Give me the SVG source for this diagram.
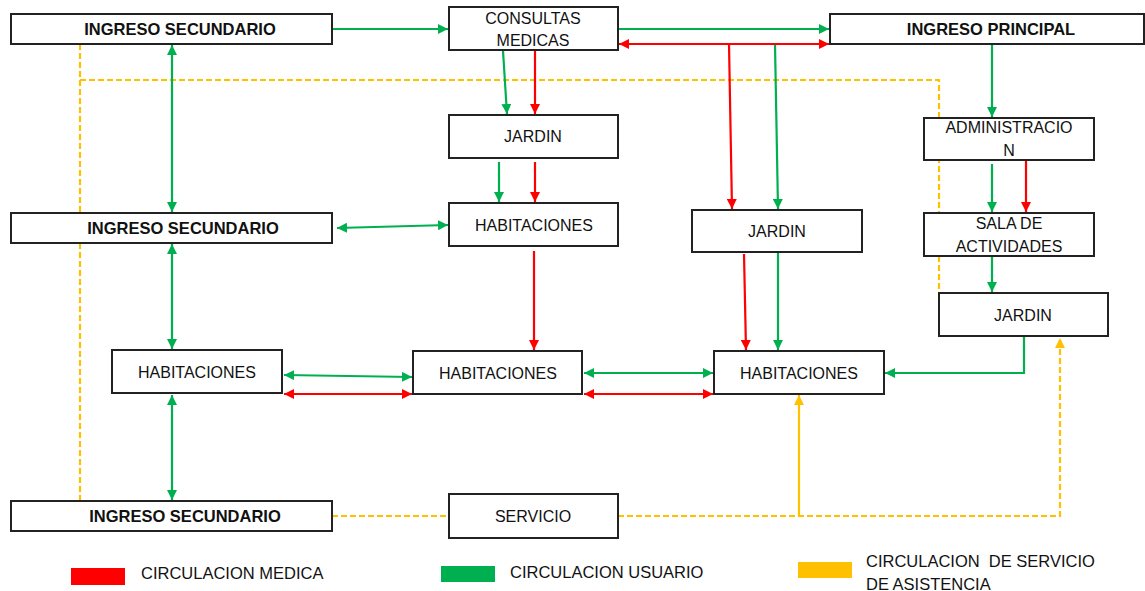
<svg xmlns="http://www.w3.org/2000/svg" width="1145" height="591" viewBox="0 0 1145 591">
<defs>
<style>
.box{fill:#fff;stroke:#222;stroke-width:2}
.t{font-family:"Liberation Sans",Arial,sans-serif;font-size:16px;fill:#111;text-anchor:middle}
.b{font-weight:bold;font-size:16.5px}
.lg{font-family:"Liberation Sans",Arial,sans-serif;font-size:16.5px;fill:#111;white-space:pre}
.g{stroke:#00B050;stroke-width:2.2;fill:none}
.r{stroke:#FF0000;stroke-width:2.2;fill:none}
.y{stroke:#FFC000;stroke-width:2.2;fill:none}
.yd{stroke:#FFC000;stroke-width:2.2;fill:none;stroke-dasharray:6 3}
</style>
<marker id="ag" viewBox="0 0 10 10" refX="10" refY="5" markerWidth="10" markerHeight="10" markerUnits="userSpaceOnUse" orient="auto-start-reverse"><path d="M0,0L10,5L0,10z" fill="#00B050"/></marker>
<marker id="ar" viewBox="0 0 10 10" refX="10" refY="5" markerWidth="10" markerHeight="10" markerUnits="userSpaceOnUse" orient="auto-start-reverse"><path d="M0,0L10,5L0,10z" fill="#FF0000"/></marker>
<marker id="ay" viewBox="0 0 10 10" refX="10" refY="5" markerWidth="10" markerHeight="10" markerUnits="userSpaceOnUse" orient="auto-start-reverse"><path d="M0,0L10,5L0,10z" fill="#FFC000"/></marker>
</defs>
<rect width="1145" height="591" fill="#fff"/>
<g id="connectors">
<!-- yellow service circulation -->
<path class="yd" d="M80,44V213"/>
<path class="yd" d="M80,80H939V293"/>
<path class="yd" d="M80,243V501"/>
<path class="yd" d="M332,516H449"/>
<path class="yd" d="M618,516H1060V338" marker-end="url(#ay)"/>
<path class="y" d="M799,516V395" marker-end="url(#ay)"/>
<!-- green user circulation -->
<path class="g" d="M333,29H448" marker-end="url(#ag)"/>
<path class="g" d="M619,29H829" marker-end="url(#ag)"/>
<path class="g" d="M503,51L507,114" marker-end="url(#ag)"/>
<path class="g" d="M775,44L778,209" marker-end="url(#ag)"/>
<path class="g" d="M992,44V117" marker-end="url(#ag)"/>
<path class="g" d="M499,162V202" marker-end="url(#ag)"/>
<path class="g" d="M337,228L448,225" marker-start="url(#ag)" marker-end="url(#ag)"/>
<path class="g" d="M778,253V350" marker-end="url(#ag)"/>
<path class="g" d="M172,45V212" marker-start="url(#ag)" marker-end="url(#ag)"/>
<path class="g" d="M172,244V349" marker-start="url(#ag)" marker-end="url(#ag)"/>
<path class="g" d="M172,395V500" marker-start="url(#ag)" marker-end="url(#ag)"/>
<path class="g" d="M284,375L412,377" marker-start="url(#ag)" marker-end="url(#ag)"/>
<path class="g" d="M584,373H713" marker-start="url(#ag)" marker-end="url(#ag)"/>
<path class="g" d="M1024,337V373H885" marker-end="url(#ag)"/>
<path class="g" d="M992,164V212" marker-end="url(#ag)"/>
<path class="g" d="M992,257V292" marker-end="url(#ag)"/>
<!-- red medical circulation -->
<path class="r" d="M619,44H829" marker-start="url(#ar)" marker-end="url(#ar)"/>
<path class="r" d="M729,44L732,209" marker-end="url(#ar)"/>
<path class="r" d="M535,51V114" marker-end="url(#ar)"/>
<path class="r" d="M535,162V202" marker-end="url(#ar)"/>
<path class="r" d="M534,251V350" marker-end="url(#ar)"/>
<path class="r" d="M744,254L746,350" marker-end="url(#ar)"/>
<path class="r" d="M284,394H412" marker-start="url(#ar)" marker-end="url(#ar)"/>
<path class="r" d="M584,394H713" marker-start="url(#ar)" marker-end="url(#ar)"/>
<path class="r" d="M1026,160V212" marker-end="url(#ar)"/>
</g>
<g id="ingreso-secundario-1"><rect class="box" x="11" y="14" width="321" height="30"/><text class="t b" x="180" y="35">INGRESO SECUNDARIO</text></g>
<g id="consultas-medicas"><rect class="box" x="449" y="7" width="169" height="43"/><text class="t" x="533" y="24">CONSULTAS</text><text class="t" x="533" y="46">MEDICAS</text></g>
<g id="ingreso-principal"><rect class="box" x="830" y="14" width="314" height="30"/><text class="t b" x="991" y="35">INGRESO PRINCIPAL</text></g>
<g id="jardin-1"><rect class="box" x="449" y="115" width="169" height="43"/><text class="t" x="533" y="142">JARDIN</text></g>
<g id="administracion"><rect class="box" x="924" y="118" width="170" height="42"/><text class="t" x="1009" y="133">ADMINISTRACIO</text><text class="t" x="1009" y="156">N</text></g>
<g id="ingreso-secundario-2"><rect class="box" x="11" y="213" width="321" height="30"/><text class="t b" x="183" y="234">INGRESO SECUNDARIO</text></g>
<g id="habitaciones-1"><rect class="box" x="449" y="203" width="169" height="43"/><text class="t" x="534" y="231">HABITACIONES</text></g>
<g id="jardin-2"><rect class="box" x="692" y="210" width="170" height="42"/><text class="t" x="777" y="237">JARDIN</text></g>
<g id="sala-actividades"><rect class="box" x="924" y="213" width="170" height="43"/><text class="t" x="1009" y="229">SALA DE</text><text class="t" x="1009" y="252">ACTIVIDADES</text></g>
<g id="jardin-3"><rect class="box" x="939" y="293" width="169" height="43"/><text class="t" x="1023" y="321">JARDIN</text></g>
<g id="habitaciones-2"><rect class="box" x="112" y="350" width="170" height="43"/><text class="t" x="197" y="378">HABITACIONES</text></g>
<g id="habitaciones-3"><rect class="box" x="413" y="351" width="169" height="43"/><text class="t" x="498" y="379">HABITACIONES</text></g>
<g id="habitaciones-4"><rect class="box" x="714" y="351" width="170" height="43"/><text class="t" x="799" y="379">HABITACIONES</text></g>
<g id="ingreso-secundario-3"><rect class="box" x="11" y="501" width="321" height="30"/><text class="t b" x="185" y="522">INGRESO SECUNDARIO</text></g>
<g id="servicio"><rect class="box" x="449" y="494" width="169" height="44"/><text class="t" x="533" y="522">SERVICIO</text></g>
<g id="legend">
<rect x="71" y="568" width="54" height="17" fill="#FF0000"/>
<text class="lg" x="141" y="579">CIRCULACION MEDICA</text>
<rect x="441" y="566" width="54" height="16" fill="#00B050"/>
<text class="lg" x="510" y="578">CIRCULACION USUARIO</text>
<rect x="798" y="562" width="54" height="16" fill="#FFC000"/>
<text class="lg" x="866" y="567" xml:space="preserve">CIRCULACION  DE SERVICIO</text>
<text class="lg" x="866" y="590">DE ASISTENCIA</text>
</g>
</svg>
